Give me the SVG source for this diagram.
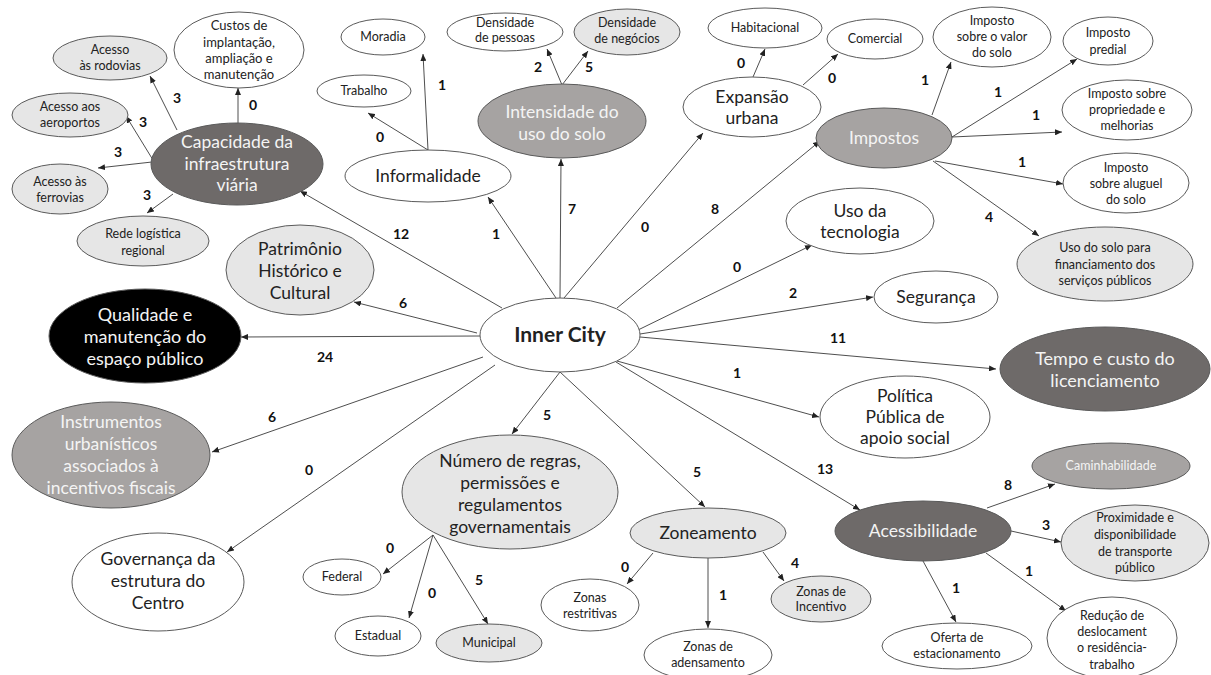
<svg xmlns="http://www.w3.org/2000/svg" width="1211" height="675" viewBox="0 0 1211 675">
<style>
text{font-family:Lato,"Liberation Sans",sans-serif;text-anchor:middle;fill:#222}
.n ellipse{stroke:#5a5a5a;stroke-width:1}
.w ellipse{fill:#fff}
.l ellipse{fill:#e6e6e6}
.m ellipse{fill:#a6a3a2}
.d ellipse{fill:#6e6a69}
.k ellipse{fill:#000}
.m text,.d text,.k text{fill:#f4f4f4}
.big text{font-size:17.5px}
.sm text{font-size:12.5px}
#conn line{stroke:#3a3a3a;stroke-width:0.9;marker-end:url(#ah)}
#conn text{font-size:14px;font-weight:bold;fill:#111}
</style>
<defs>
<marker id="ah" markerUnits="userSpaceOnUse" markerWidth="7" markerHeight="6" refX="7" refY="3" orient="auto">
<path d="M0,0 L7,3 L0,6 z" fill="#222"/>
</marker>
</defs>
<rect width="1211" height="675" fill="#fff"/>

<g id="conn">
<line x1="502" y1="308" x2="300" y2="191"/><text x="401" y="239">12</text>
<line x1="556" y1="298" x2="488" y2="197"/><text x="496" y="239">1</text>
<line x1="560" y1="298" x2="561" y2="159"/><text x="572" y="214">7</text>
<line x1="564" y1="298" x2="703" y2="133"/><text x="645" y="232">0</text>
<line x1="617" y1="308" x2="820" y2="141"/><text x="715" y="214">8</text>
<line x1="638" y1="330" x2="812" y2="245"/><text x="737" y="272">0</text>
<line x1="640" y1="334" x2="873" y2="297"/><text x="793" y="298">2</text>
<line x1="640" y1="337" x2="996" y2="369"/><text x="838" y="343">11</text>
<line x1="617" y1="361" x2="819" y2="417"/><text x="737" y="378">1</text>
<line x1="616" y1="362" x2="860" y2="510"/><text x="825" y="474">13</text>
<line x1="560" y1="372" x2="512" y2="434"/><text x="547" y="420">5</text>
<line x1="560" y1="372" x2="705" y2="507"/><text x="697" y="477">5</text>
<line x1="495" y1="365" x2="227" y2="552"/><text x="309" y="475">0</text>
<line x1="483" y1="357" x2="212" y2="452"/><text x="272" y="422">6</text>
<line x1="480" y1="336" x2="241" y2="337"/><text x="325" y="362">24</text>
<line x1="477" y1="333" x2="354" y2="302"/><text x="403" y="308">6</text>

<line x1="238" y1="123" x2="238" y2="88"/><text x="253" y="110">0</text>
<line x1="177" y1="130" x2="150" y2="76"/><text x="177" y="103">3</text>
<line x1="153" y1="160" x2="126" y2="116"/><text x="143" y="127">3</text>
<line x1="152" y1="162" x2="98" y2="168"/><text x="118" y="157">3</text>
<line x1="173" y1="194" x2="147" y2="213"/><text x="147" y="200">3</text>

<line x1="428" y1="150" x2="423" y2="54"/><text x="442" y="90">1</text>
<line x1="428" y1="150" x2="368" y2="113"/><text x="380" y="142">0</text>

<line x1="562" y1="85" x2="547" y2="49"/><text x="538" y="72">2</text>
<line x1="562" y1="85" x2="588" y2="51"/><text x="589" y="72">5</text>

<line x1="753" y1="77" x2="765" y2="49"/><text x="741" y="68">0</text>
<line x1="803" y1="85" x2="838" y2="54"/><text x="832" y="83">0</text>

<line x1="932" y1="115" x2="951" y2="62"/><text x="925" y="85">1</text>
<line x1="952" y1="137" x2="1077" y2="59"/><text x="998" y="97">1</text>
<line x1="952" y1="137" x2="1062" y2="132"/><text x="1036" y="120">1</text>
<line x1="935" y1="161" x2="1063" y2="184"/><text x="1022" y="167">1</text>
<line x1="933" y1="161" x2="1039" y2="236"/><text x="989" y="222">4</text>

<line x1="433" y1="535" x2="383" y2="574"/><text x="390" y="553">0</text>
<line x1="433" y1="535" x2="409" y2="618"/><text x="432" y="598">0</text>
<line x1="433" y1="535" x2="488" y2="624"/><text x="479" y="585">5</text>

<line x1="653" y1="553" x2="627" y2="584"/><text x="625" y="572">0</text>
<line x1="708" y1="558" x2="708" y2="628"/><text x="723" y="600">1</text>
<line x1="763" y1="552" x2="784" y2="581"/><text x="795" y="568">4</text>

<line x1="987" y1="508" x2="1055" y2="484"/><text x="1008" y="490">8</text>
<line x1="1011" y1="531" x2="1061" y2="542"/><text x="1046" y="530">3</text>
<line x1="986" y1="553" x2="1066" y2="611"/><text x="1029" y="576">1</text>
<line x1="923" y1="561" x2="956" y2="622"/><text x="956" y="593">1</text>
</g>

<g id="inner" class="n w"><ellipse cx="560" cy="335" rx="80" ry="37"/><text x="560" y="342" style="font-size:21px;font-weight:bold">Inner City</text></g>

<g id="capacidade" class="n d big"><ellipse cx="237" cy="164" rx="86" ry="41"/><text x="237" y="148">Capacidade da</text><text x="237" y="170">infraestrutura</text><text x="237" y="191">viária</text></g>
<g id="custos" class="n w"><ellipse cx="239" cy="50" rx="65" ry="38"/><text x="239" y="30" style="font-size:13px">Custos de</text><text x="239" y="47" style="font-size:13px">implantação,</text><text x="239" y="63" style="font-size:13px">ampliação e</text><text x="239" y="79" style="font-size:13px">manutenção</text></g>
<g id="rodovias" class="n l sm"><ellipse cx="110" cy="58" rx="57" ry="22"/><text x="110" y="54">Acesso</text><text x="110" y="70">às rodovias</text></g>
<g id="aeroportos" class="n l sm"><ellipse cx="70" cy="115" rx="58" ry="22"/><text x="70" y="111">Acesso aos</text><text x="70" y="127">aeroportos</text></g>
<g id="ferrovias" class="n l sm"><ellipse cx="60" cy="189" rx="48" ry="25"/><text x="60" y="186">Acesso às</text><text x="60" y="202">ferrovias</text></g>
<g id="rede" class="n l sm"><ellipse cx="143" cy="241" rx="66" ry="25"/><text x="143" y="238">Rede logística</text><text x="143" y="255">regional</text></g>

<g id="patrimonio" class="n l big"><ellipse cx="300" cy="270" rx="74" ry="45"/><text x="300" y="255">Patrimônio</text><text x="300" y="277">Histórico e</text><text x="300" y="299">Cultural</text></g>
<g id="qualidade" class="n k"><ellipse cx="145" cy="336" rx="96" ry="47"/><text x="145" y="321" style="font-size:18px">Qualidade e</text><text x="145" y="343" style="font-size:18px">manutenção do</text><text x="145" y="365" style="font-size:18px">espaço público</text></g>
<g id="instrumentos" class="n m big"><ellipse cx="111" cy="455" rx="99" ry="53"/><text x="111" y="428">Instrumentos</text><text x="111" y="450">urbanísticos</text><text x="111" y="472">associados à</text><text x="111" y="494">incentivos fiscais</text></g>
<g id="governanca" class="n w big"><ellipse cx="158" cy="582" rx="86" ry="49"/><text x="158" y="565">Governança da</text><text x="158" y="587">estrutura do</text><text x="158" y="609">Centro</text></g>

<g id="numero" class="n l big"><ellipse cx="510" cy="492" rx="108" ry="57"/><text x="510" y="467">Número de regras,</text><text x="510" y="489">permissões e</text><text x="510" y="511">regulamentos</text><text x="510" y="533">governamentais</text></g>
<g id="federal" class="n w sm"><ellipse cx="342" cy="577" rx="39" ry="18"/><text x="342" y="581">Federal</text></g>
<g id="estadual" class="n w sm"><ellipse cx="378" cy="636" rx="43" ry="20"/><text x="378" y="640">Estadual</text></g>
<g id="municipal" class="n l sm"><ellipse cx="489" cy="643" rx="53" ry="19"/><text x="489" y="647">Municipal</text></g>

<g id="zoneamento" class="n l big"><ellipse cx="708" cy="533" rx="78" ry="25"/><text x="708" y="539">Zoneamento</text></g>
<g id="restritivas" class="n w sm"><ellipse cx="590" cy="605" rx="49" ry="26"/><text x="590" y="602">Zonas</text><text x="590" y="618">restritivas</text></g>
<g id="adensamento" class="n w sm"><ellipse cx="708" cy="655" rx="64" ry="26"/><text x="708" y="651">Zonas de</text><text x="708" y="667">adensamento</text></g>
<g id="incentivo" class="n l sm"><ellipse cx="821" cy="599" rx="50" ry="23"/><text x="821" y="596">Zonas de</text><text x="821" y="611">Incentivo</text></g>

<g id="acessibilidade" class="n d big"><ellipse cx="923" cy="531" rx="88" ry="30"/><text x="923" y="537">Acessibilidade</text></g>
<g id="caminhabilidade" class="n m sm"><ellipse cx="1111" cy="466" rx="79" ry="23"/><text x="1111" y="470">Caminhabilidade</text></g>
<g id="proximidade" class="n l sm"><ellipse cx="1135" cy="543" rx="74" ry="38"/><text x="1135" y="522">Proximidade e</text><text x="1135" y="539">disponibilidade</text><text x="1135" y="556">de transporte</text><text x="1135" y="572">público</text></g>
<g id="reducao" class="n w sm"><ellipse cx="1112" cy="638" rx="65" ry="41"/><text x="1112" y="620">Redução de</text><text x="1112" y="636">deslocament</text><text x="1112" y="652">o residência-</text><text x="1112" y="669">trabalho</text></g>
<g id="oferta" class="n w sm"><ellipse cx="957" cy="646" rx="75" ry="23"/><text x="957" y="642">Oferta de</text><text x="957" y="658">estacionamento</text></g>

<g id="tempo" class="n d"><ellipse cx="1105" cy="369" rx="105" ry="42"/><text x="1105" y="365" style="font-size:18px">Tempo e custo do</text><text x="1105" y="387" style="font-size:18px">licenciamento</text></g>
<g id="politica" class="n w big"><ellipse cx="905" cy="417" rx="85" ry="41"/><text x="905" y="402">Política</text><text x="905" y="423">Pública de</text><text x="905" y="444">apoio social</text></g>
<g id="seguranca" class="n w big"><ellipse cx="936" cy="297" rx="62" ry="26"/><text x="936" y="303">Segurança</text></g>
<g id="tecnologia" class="n w big"><ellipse cx="860" cy="221" rx="74" ry="33"/><text x="860" y="217">Uso da</text><text x="860" y="238">tecnologia</text></g>

<g id="usosolo" class="n l sm"><ellipse cx="1105" cy="264" rx="88" ry="37"/><text x="1105" y="252">Uso do solo para</text><text x="1105" y="269">financiamento dos</text><text x="1105" y="285">serviços públicos</text></g>
<g id="aluguel" class="n w sm"><ellipse cx="1126" cy="183" rx="63" ry="30"/><text x="1126" y="172">Imposto</text><text x="1126" y="188">sobre aluguel</text><text x="1126" y="204">do solo</text></g>
<g id="propriedade" class="n w sm"><ellipse cx="1127" cy="110" rx="65" ry="30"/><text x="1127" y="98">Imposto sobre</text><text x="1127" y="114">propriedade e</text><text x="1127" y="130">melhorias</text></g>
<g id="predial" class="n w sm"><ellipse cx="1108" cy="41" rx="45" ry="24"/><text x="1108" y="37">Imposto</text><text x="1108" y="54">predial</text></g>
<g id="valor" class="n w sm"><ellipse cx="992" cy="37" rx="59" ry="30"/><text x="992" y="25">Imposto</text><text x="992" y="41">sobre o valor</text><text x="992" y="57">do solo</text></g>
<g id="impostos" class="n m big"><ellipse cx="884" cy="138" rx="68" ry="30"/><text x="884" y="144">Impostos</text></g>

<g id="expansao" class="n w big"><ellipse cx="752" cy="107" rx="69" ry="30"/><text x="752" y="103">Expansão</text><text x="752" y="124">urbana</text></g>
<g id="habitacional" class="n w sm"><ellipse cx="765" cy="28" rx="57" ry="20"/><text x="765" y="32">Habitacional</text></g>
<g id="comercial" class="n w sm"><ellipse cx="875" cy="39" rx="48" ry="20"/><text x="875" y="43">Comercial</text></g>

<g id="intensidade" class="n m big"><ellipse cx="562" cy="121" rx="84" ry="37"/><text x="562" y="118">Intensidade do</text><text x="562" y="140">uso do solo</text></g>
<g id="pessoas" class="n w sm"><ellipse cx="505" cy="32" rx="58" ry="19"/><text x="505" y="27">Densidade</text><text x="505" y="42">de pessoas</text></g>
<g id="negocios" class="n l sm"><ellipse cx="627" cy="32" rx="53" ry="23"/><text x="627" y="27">Densidade</text><text x="627" y="43">de negócios</text></g>

<g id="informalidade" class="n w big"><ellipse cx="428" cy="176" rx="83" ry="26"/><text x="428" y="182">Informalidade</text></g>
<g id="trabalho" class="n w sm"><ellipse cx="364" cy="91" rx="47" ry="16"/><text x="364" y="95">Trabalho</text></g>
<g id="moradia" class="n w sm"><ellipse cx="383" cy="37" rx="42" ry="18"/><text x="383" y="41">Moradia</text></g>
</svg>
